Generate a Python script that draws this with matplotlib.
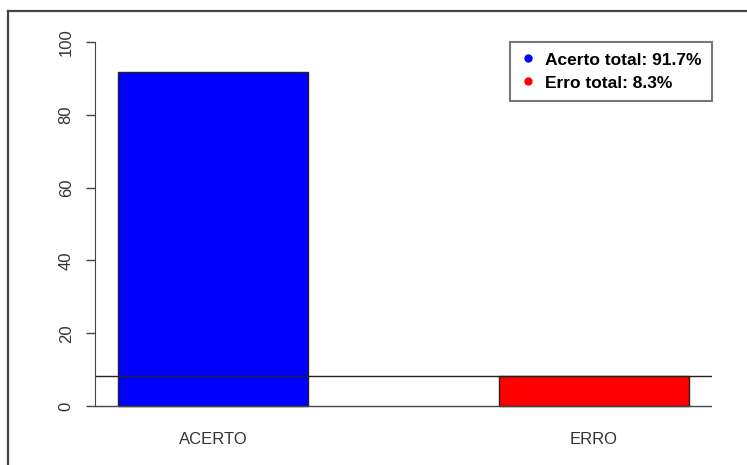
import numpy as np
import matplotlib.pyplot as plt
from matplotlib.lines import Line2D

categories = ['ACERTO', 'ERRO']
values = [91.7, 8.3]
bar_colors = ['#0000ff', '#ff0000']
legend_labels = ['Acerto total: 91.7%', 'Erro total: 8.3%']
yticks = [0, 20, 40, 60, 80, 100]

plt.rcParams['font.family'] = ['Liberation Sans', 'DejaVu Sans']

W, H = 747, 465
fig = plt.figure(figsize=(W / 100, H / 100), dpi=100)

# outer frame (left and top edges of the original screenshot)
fig.add_artist(Line2D([8 / W, 8 / W], [0, 1 - 11 / H], color='#444444', lw=1.6))
fig.add_artist(Line2D([8 / W, 1], [1 - 11 / H, 1 - 11 / H], color='#444444', lw=1.6))

# plot region in pixels (R barplot style, space=1, width=1)
left, right, top, bottom = 95.2, 711.8, 27.5, 420.6
ax = fig.add_axes([left / W, 1 - bottom / H, (right - left) / W, (bottom - top) / H])

x = np.array([1.5, 3.5])
ax.bar(x, values, width=1, color=bar_colors, edgecolor='#222222', linewidth=1)
ax.axhline(values[1], color='#222222', lw=1)
ax.axhline(0, color='#444444', lw=1)

ax.set_xlim(0.88, 4.12)
ax.set_ylim(-4, 104)

for s in ['top', 'right', 'bottom']:
    ax.spines[s].set_visible(False)
ax.spines['left'].set_bounds(0, 100)
ax.spines['left'].set_color('#444444')

ax.set_yticks(yticks)
ax.set_yticklabels([str(v) for v in yticks], rotation=90, va='center', fontsize=12, color='#333333')
ax.tick_params(axis='y', length=6.5, width=1, color='#444444', pad=9)
ax.set_xticks(x)
ax.set_xticklabels(categories, fontsize=12, color='#333333')
ax.tick_params(axis='x', length=0, pad=8)

handles = [Line2D([], [], marker='o', ls='', color=c, markersize=5) for c in bar_colors]
leg = ax.legend(handles, legend_labels, loc='upper right', bbox_to_anchor=(1.0, 1 - (42 - top) / (bottom - top)),
                prop={'weight': 'bold', 'size': 12.5}, frameon=True, fancybox=False,
                handlelength=0.8, handletextpad=0.6, borderpad=0.6, labelspacing=0.45,
                borderaxespad=0)
leg.get_frame().set_edgecolor('#555555')
leg.get_frame().set_linewidth(1.5)

fig.savefig('out.png', dpi=100)
